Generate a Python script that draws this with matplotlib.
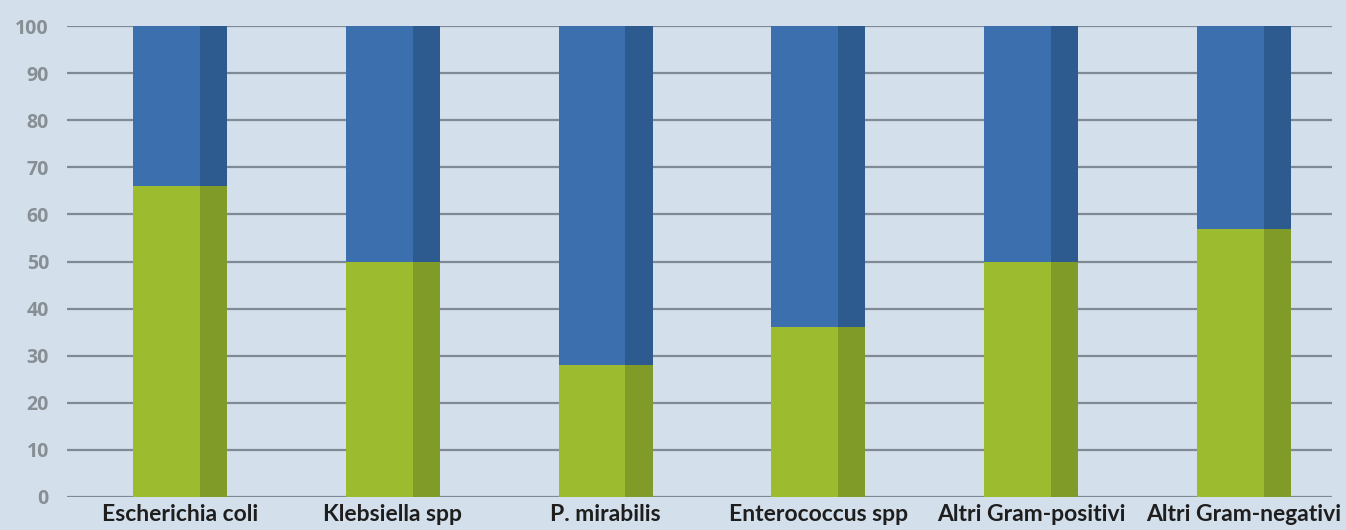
import numpy as np
import matplotlib.pyplot as plt

# Dati: percentuale (verde) e resto fino a 100 (blu)
categorie = ['Escherichia coli', 'Klebsiella spp', 'P. mirabilis',
             'Enterococcus spp', 'Altri Gram-positivi', 'Altri Gram-negativi']
verde = [66, 50, 28, 36, 50, 57]
blu = [100 - v for v in verde]

sfondo = '#d3e0eb'
col_verde, col_verde_scuro = '#9dbb2f', '#809b28'
col_blu, col_blu_scuro = '#3b6fae', '#2d5b8f'

fig = plt.figure(figsize=(13.46, 5.30), dpi=100, facecolor=sfondo)
ax = fig.add_axes([67 / 1346, 33 / 530, 1265 / 1346, 471 / 530])
ax.set_facecolor(sfondo)

x = np.arange(len(categorie))
larg = 0.442
chiaro = 0.71 * larg
scuro = larg - chiaro
sx = x - larg / 2

# parte chiara + striscia scura a destra (effetto 3D)
ax.bar(sx, verde, width=chiaro, align='edge', color=col_verde, zorder=3)
ax.bar(sx + chiaro, verde, width=scuro, align='edge', color=col_verde_scuro, zorder=3)
ax.bar(sx, blu, bottom=verde, width=chiaro, align='edge', color=col_blu, zorder=3)
ax.bar(sx + chiaro, blu, bottom=verde, width=scuro, align='edge', color=col_blu_scuro, zorder=3)

ax.set_ylim(0, 100)
ax.set_xlim(-0.531, 5.414)
ax.set_yticks(range(0, 101, 10))
ax.yaxis.grid(True, color='#7f8a94', linewidth=1.6, zorder=0)
ax.set_axisbelow(True)
for s in ax.spines.values():
    s.set_visible(False)

ax.set_xticks(x)
ax.set_xticklabels(categorie, fontsize=16.5, fontweight='bold', color='#1e1e1e',
                   family=['Lato', 'DejaVu Sans'])
ax.tick_params(axis='x', length=0, pad=5)
ax.tick_params(axis='y', length=0, pad=13, labelcolor='#878e94')
for t in ax.get_yticklabels():
    t.set_fontsize(14)
    t.set_fontweight('bold')
    t.set_family(['Open Sans', 'DejaVu Sans'])

fig.savefig('out.png', dpi=100, facecolor=sfondo)
